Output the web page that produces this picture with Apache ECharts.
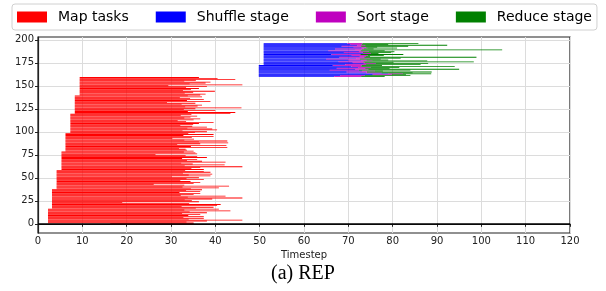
<!DOCTYPE html>
<html>
<head>
<meta charset="utf-8">
<script src="https://cdn.jsdelivr.net/npm/echarts@6/dist/echarts.min.js"></script>
<style>
  html, body { margin: 0; padding: 0; background: #fff; }
  #chart { width: 606px; height: 291px; }
</style>
</head>
<body>
<div id="chart"></div>
<script>
// map tasks, row 0 .. 159
const mapStart = [
  16.3,
  2.25, 2.25, 2.25, 2.25, 2.25, 2.25, 2.25, 2.25, 2.25, 2.25, 2.25, 2.25, 2.25, 2.25, 2.25, 2.25,
  3.15, 3.15, 3.15, 3.15, 3.15, 3.15, 3.15, 3.15, 3.15, 3.15, 3.15, 3.15, 3.15, 3.15, 3.15, 3.15, 3.15, 3.15, 3.15, 3.15, 3.15,
  4.2, 4.2, 4.2, 4.2, 4.2, 4.2, 4.2, 4.2, 4.2, 4.2, 4.2, 4.2, 4.2, 4.2, 4.2, 4.2, 4.2, 4.2, 4.2, 4.2, 4.2,
  5.3, 5.3, 5.3, 5.3, 5.3, 5.3, 5.3, 5.3, 5.3, 5.3, 5.3, 5.3, 5.3, 5.3, 5.3, 5.3, 5.3, 5.3, 5.3, 5.3,
  6.2, 6.2, 6.2, 6.2, 6.2, 6.2, 6.2, 6.2, 6.2, 6.2, 6.2, 6.2, 6.2, 6.2, 6.2, 6.2, 6.2, 6.2, 6.2, 6.2,
  7.3, 7.3, 7.3, 7.3, 7.3, 7.3, 7.3, 7.3, 7.3, 7.3, 7.3, 7.3, 7.3, 7.3, 7.3, 7.3, 7.3, 7.3, 7.3, 7.3, 7.3,
  8.3, 8.3, 8.3, 8.3, 8.3, 8.3, 8.3, 8.3, 8.3, 8.3, 8.3, 8.3, 8.3, 8.3, 8.3, 8.3, 8.3, 8.3, 8.3, 8.3,
  9.4, 9.4, 9.4, 9.4, 9.4, 9.4, 9.4, 9.4, 9.4, 9.4, 9.4, 9.4, 9.4, 9.4, 9.4, 9.4, 9.4, 9.4, 9.4, 9.4
];
const mapEnd = [
  35.1, 35.1, 33.5, 38.1, 46.1, 34.0, 37.4, 32.8, 37.4, 33.9,
  36.6, 32.5, 38.1, 34.2, 43.4, 33.0, 40.8, 35.6, 39.6, 32.4,
  40.4, 41.2, 34.1, 19.0, 36.3, 34.7, 33.1, 39.3, 46.1, 33.8,
  42.3, 32.2, 35.1, 36.6, 31.9, 36.6, 33.4, 37.0, 34.5, 40.8,
  32.6, 43.1, 33.0, 26.1, 35.1, 36.6, 34.4, 32.1, 37.4, 33.5,
  36.3, 30.2, 38.9, 34.0, 39.3, 32.7, 38.9, 37.4, 33.2, 37.4,
  34.6, 36.6, 46.1, 33.1, 42.1, 34.9, 32.3, 42.3, 37.0, 33.6,
  35.9, 32.5, 38.1, 35.9, 33.3, 26.5, 35.9, 35.5, 32.9, 35.1,
  33.6, 33.3, 31.8, 42.7, 34.5, 42.5, 31.4, 36.6, 42.9, 36.3,
  42.7, 33.0, 35.2, 30.3, 34.7, 39.6, 32.8, 39.6, 33.9, 35.4,
  38.1, 32.6, 40.4, 39.3, 33.7, 38.1, 34.8, 32.1, 35.0, 36.3,
  39.6, 33.4, 31.5, 35.1, 36.6, 33.0, 34.4, 35.9, 32.2, 34.6,
  43.4, 44.5, 33.8, 40.0, 32.9, 35.5, 45.9, 33.2, 36.0, 37.0,
  32.4, 35.5, 29.1, 38.9, 33.6, 37.4, 34.3, 32.0, 37.0, 33.8,
  36.6, 37.8, 33.1, 35.0, 39.9, 32.7, 34.5, 36.3, 33.4, 38.1,
  29.4, 46.1, 34.2, 37.8, 38.9, 33.0, 35.6, 44.5, 40.5, 36.3
];

// reduce tasks, row 160 .. 196
const shuffleStart = [
  49.8, 49.8, 49.8, 49.8, 49.8, 49.8, 49.8, 49.8, 49.8, 49.8, 49.8, 49.8, 49.8,
  50.9, 50.9, 50.9, 50.9, 50.9, 50.9, 50.9, 50.9, 50.9, 50.9, 50.9, 50.9,
  50.9, 50.9, 50.9, 50.9, 50.9, 50.9, 50.9, 50.9, 50.9, 50.9, 50.9, 50.9
];
const sortStart = [
  66.8, 68.2, 75.5, 79.0, 74.0, 69.6, 73.1, 65.8, 71.6, 67.4,
  72.2, 70.7, 66.5, 69.3, 73.5, 71.0, 67.8, 72.9, 70.0, 65.0,
  71.8, 68.0, 72.6, 70.8, 66.2, 73.3, 69.0, 72.4, 65.5, 71.5,
  67.0, 73.0, 71.2, 68.5, 72.0, 70.5, 69.8
];
const reduceStart = [
  72.9, 73.7, 79.8, 82.3, 77.5, 74.2, 76.0, 72.4, 74.5, 73.8,
  75.0, 72.9, 73.0, 74.0, 76.2, 73.7, 73.4, 75.4, 74.1, 72.6,
  74.8, 73.6, 73.9, 74.4, 72.7, 75.1, 73.3, 74.6, 72.8, 73.1,
  73.5, 74.3, 74.0, 72.9, 73.8, 73.0, 73.2
];
const reduceEnd = [
  78.2, 84.0, 83.0, 88.7, 84.5, 88.8, 77.8, 84.0, 95.0, 79.3,
  81.5, 94.0, 77.6, 86.3, 88.0, 80.2, 98.3, 87.8, 79.0, 77.3,
  81.8, 98.9, 74.9, 78.0, 82.4, 76.8, 79.7, 80.4, 78.2, 104.7,
  75.7, 81.0, 76.5, 83.5, 92.3, 79.0, 85.8
];
const firstReduceRow = 160;

const yTicks = [0, 25, 50, 75, 100, 125, 150, 175, 200];
const font = 'DejaVu Sans';

function rows(starts, ends, offset) {
  return starts.map((s, i) => [i + offset, s, ends[i]]);
}

function barItem(params, api) {
  const y = api.value(0);
  const p0 = api.coord([api.value(1), y + 0.46]);
  const p1 = api.coord([api.value(2), y - 0.46]);
  return {
    type: 'rect',
    shape: { x: p0[0], y: p0[1], width: p1[0] - p0[0], height: p1[1] - p0[1] },
    style: { fill: api.visual('color') }
  };
}

function stage(name, color, data) {
  return {
    name: name,
    type: 'custom',
    renderItem: barItem,
    itemStyle: { color: color },
    encode: { x: [1, 2], y: 0 },
    clip: false,
    silent: true,
    data: data
  };
}

const chart = echarts.init(document.getElementById('chart'), null, { renderer: 'canvas' });

const series = [
  stage('Map tasks', '#ff0000', rows(mapStart, mapEnd, 0)),
  stage('Shuffle stage', '#0000ff', rows(shuffleStart, sortStart, firstReduceRow)),
  stage('Sort stage', '#bf00bf', rows(sortStart, reduceStart, firstReduceRow)),
  stage('Reduce stage', '#008000', rows(reduceStart, reduceEnd, firstReduceRow))
];
series[0].markLine = {
  silent: true,
  symbol: 'none',
  label: { show: false },
  lineStyle: { color: '#000', width: 1.5, type: 'solid' },
  data: [{ yAxis: 0 }]
};

chart.setOption({
  animation: false,
  textStyle: { fontFamily: font },
  title: {
    text: '(a) REP',
    left: 'center',
    top: 259,
    textStyle: { fontFamily: 'Liberation Serif', fontSize: 20, fontWeight: 'normal', color: '#000' }
  },
  legend: {
    left: 12,
    top: 4,
    padding: [6, 5, 6, 5],
    itemGap: 27,
    itemWidth: 30,
    itemHeight: 11,
    icon: 'rect',
    borderColor: '#d0d0d0',
    borderWidth: 1,
    borderRadius: 3,
    textStyle: { fontFamily: font, fontSize: 14, color: '#000', padding: [0, 0, 0, 6] },
    data: ['Map tasks', 'Shuffle stage', 'Sort stage', 'Reduce stage']
  },
  grid: {
    left: 38,
    right: 36,
    top: 37,
    bottom: 58,
    show: true,
    borderColor: '#222',
    borderWidth: 1.2
  },
  xAxis: {
    type: 'value',
    min: 0,
    max: 120,
    interval: 10,
    name: 'Timestep',
    nameLocation: 'middle',
    nameGap: 17,
    nameTextStyle: { fontFamily: font, fontSize: 10, color: '#222' },
    axisLine: { show: true, lineStyle: { color: '#222', width: 1.2 } },
    axisTick: { show: true, length: 3, lineStyle: { color: '#222' } },
    axisLabel: { fontFamily: font, fontSize: 10, color: '#222', margin: 3 },
    splitLine: { show: true, lineStyle: { color: '#dcdcdc', width: 1 } }
  },
  yAxis: {
    type: 'value',
    min: -10,
    max: 203,
    axisLine: { show: true, lineStyle: { color: '#222', width: 1.2 } },
    axisTick: { show: true, length: 3, customValues: yTicks, lineStyle: { color: '#222' } },
    axisLabel: { fontFamily: font, fontSize: 10, color: '#222', margin: 4, customValues: yTicks },
    splitLine: { show: true, lineStyle: { color: '#dcdcdc', width: 1 } }
  },
  series: series
});
</script>
</body>
</html>
